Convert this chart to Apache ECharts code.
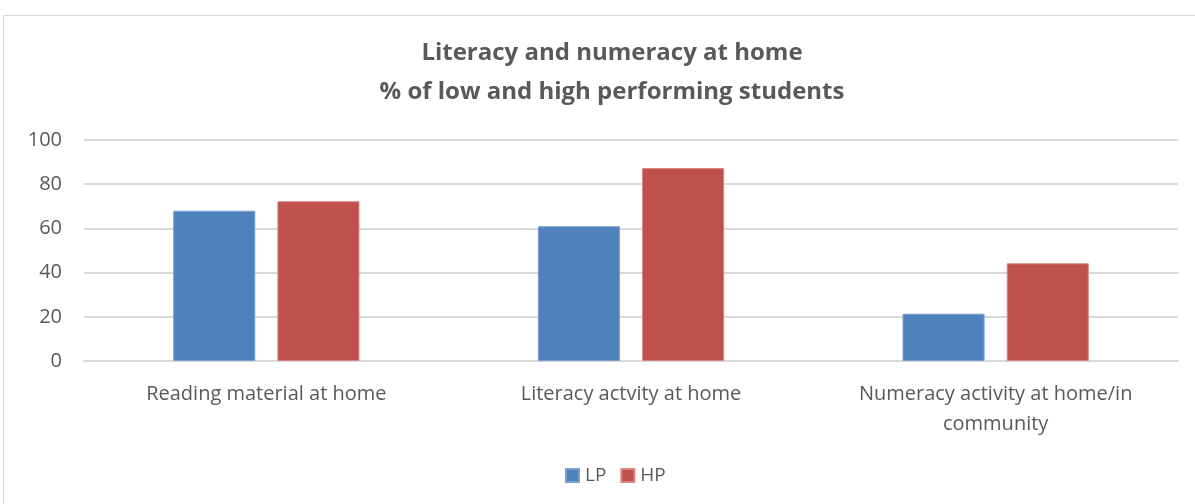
<!DOCTYPE html>
<html>
<head>
<meta charset="utf-8">
<script src="https://cdn.jsdelivr.net/npm/echarts@6/dist/echarts.min.js"></script>
<style>
  html, body { margin: 0; padding: 0; background: #fff; }
  #main { width: 1195px; height: 504px; }
</style>
</head>
<body>
<div id="main"></div>
<script>
const categories = ['Reading material at home', 'Literacy actvity at home', 'Numeracy activity at home/in\ncommunity']
const lpValues = [68, 61, 21.4]
const hpValues = [72.3, 87.3, 44.2]
const yTicks = [0, 20, 40, 60, 80, 100]

const font = 'Open Sans'
const textColor = '#595959'

const chart = echarts.init(document.getElementById('main'))

chart.setOption({
    animation: false,
    backgroundColor: '#fff',
    graphic: [{
        type: 'rect',
        shape: { x: 3.5, y: 15.5, width: 1200, height: 500 },
        style: { fill: 'none', stroke: '#d9d9d9', lineWidth: 1 },
        silent: true
    }],
    title: {
        text: 'Literacy and numeracy at home\n% of low and high performing students',
        left: 607,
        textAlign: 'center',
        top: 29,
        textStyle: {
            fontFamily: font,
            fontSize: 24,
            fontWeight: 'bold',
            color: textColor,
            lineHeight: 39
        }
    },
    legend: {
        top: 461,
        left: 560,
        itemWidth: 13,
        itemHeight: 13,
        itemGap: 14,
        icon: 'rect',
        textStyle: { fontFamily: font, fontSize: 19, color: textColor, padding: [0, 0, 0, 1] },
        data: ['LP', 'HP']
    },
    grid: { left: 84, right: 17, top: 140, bottom: 143 },
    xAxis: {
        type: 'category',
        data: categories,
        axisLine: { lineStyle: { color: '#d9d9d9', width: 2 } },
        axisTick: { show: false },
        axisLabel: {
            fontFamily: font,
            fontSize: 20,
            color: textColor,
            margin: 18,
            lineHeight: 30
        }
    },
    yAxis: {
        type: 'value',
        min: yTicks[0],
        max: yTicks[yTicks.length - 1],
        interval: 20,
        axisLine: { show: false },
        axisTick: { show: false },
        splitLine: { lineStyle: { color: '#d9d9d9', width: 2 } },
        axisLabel: { fontFamily: font, fontSize: 20, color: textColor, margin: 22 }
    },
    series: [{
        name: 'LP',
        type: 'bar',
        data: lpValues,
        barWidth: '22.5%',
        barGap: '27%',
        itemStyle: { color: '#4f81bd', borderColor: '#7aa0d0', borderWidth: 1 }
    }, {
        name: 'HP',
        type: 'bar',
        data: hpValues,
        barWidth: '22.5%',
        itemStyle: { color: '#c0504d', borderColor: '#d78684', borderWidth: 1 }
    }]
})
</script>
</body>
</html>
